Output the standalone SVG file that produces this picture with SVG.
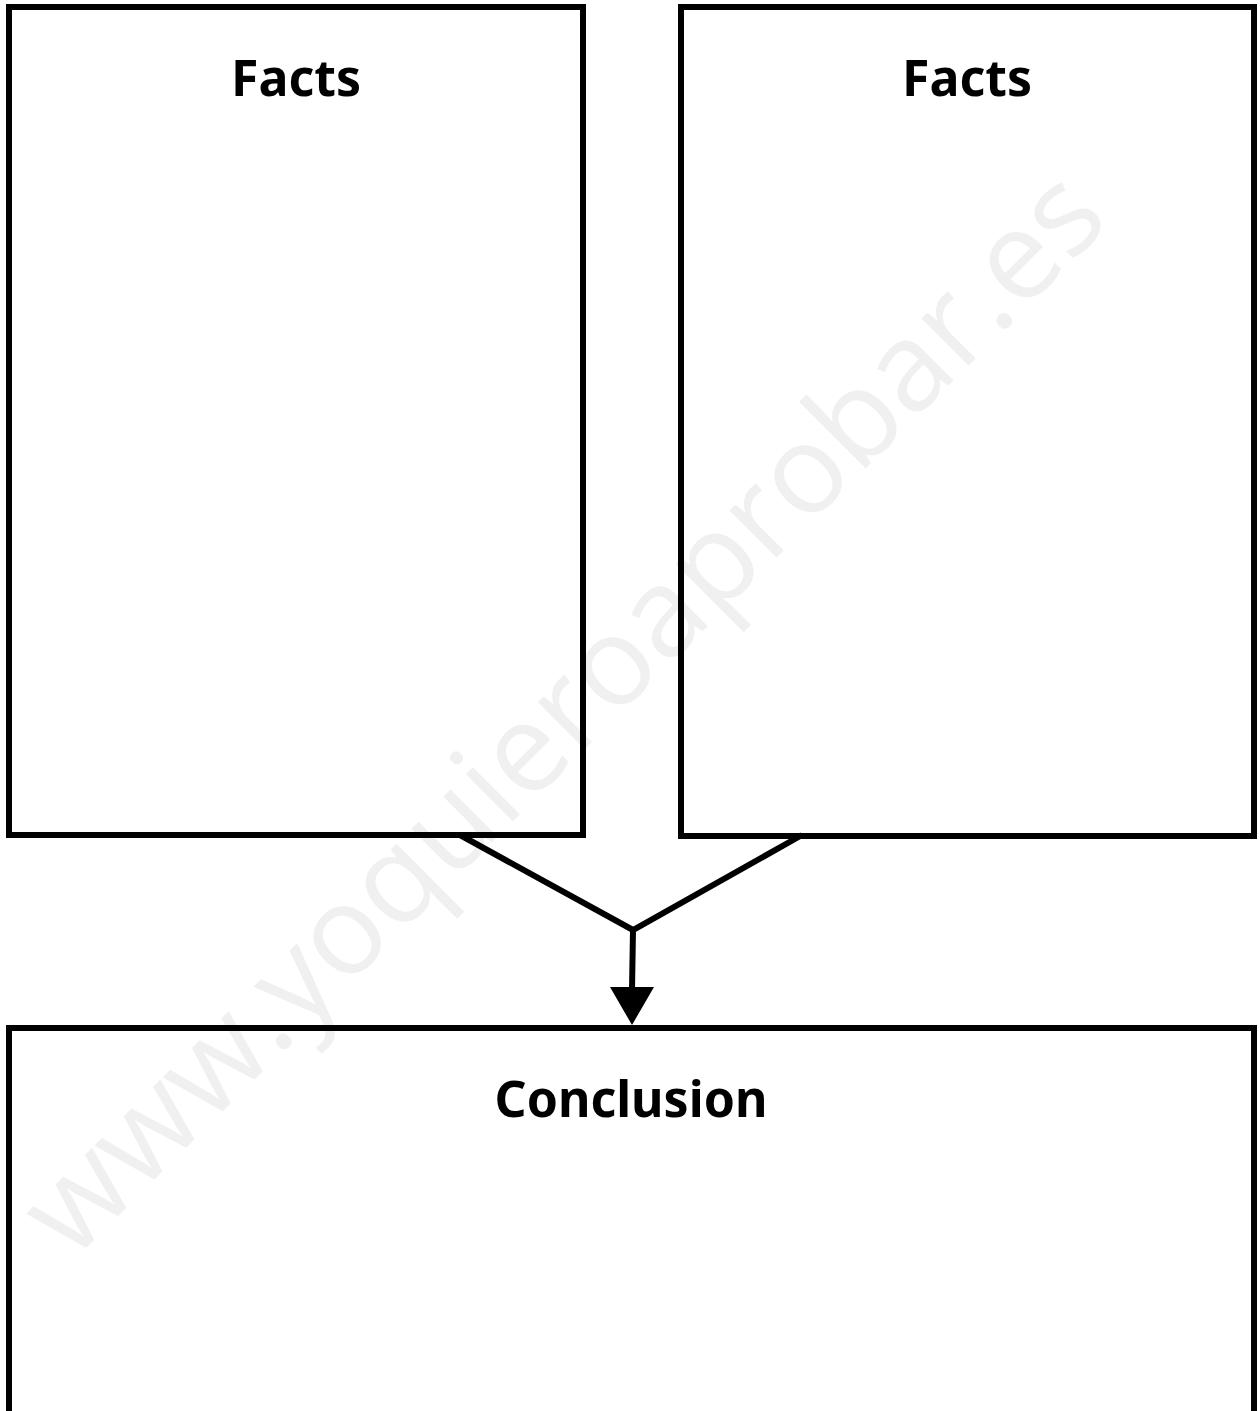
<svg xmlns="http://www.w3.org/2000/svg" width="1260" height="1411" viewBox="0 0 1260 1411">
<defs>
<style>
.box{fill:none;stroke:#000;stroke-width:6}
.lbl{font-family:"Noto Sans","Liberation Sans",sans-serif;font-weight:bold;font-size:50px;fill:#000;text-anchor:middle}
.con{fill:none;stroke:#000;stroke-width:6;stroke-linejoin:miter}
.wm{font-family:"Open Sans","Liberation Sans",sans-serif;font-size:124px;fill:#f0f0f0;text-anchor:middle}
</style>
</defs>
<rect width="1260" height="1411" fill="#fff"/>
<text class="wm" x="592" y="742" transform="rotate(-45 592 742)" textLength="1470">www.yoquieroaprobar.es</text>
<g id="connectors">
<polyline class="con" points="460,835 633,930 802,835"/>
<line x1="633" y1="930" x2="632" y2="990" class="con"/>
<path d="M610,987 L654,987 L632,1025 Z" fill="#000"/>
</g>
<g id="facts1">
<rect class="box" x="9" y="7" width="574" height="828"/>
<text class="lbl" x="296" y="96">Facts</text>
</g>
<g id="facts2">
<rect class="box" x="681" y="7" width="573" height="829"/>
<text class="lbl" x="967" y="96">Facts</text>
</g>
<g id="conclusion">
<rect class="box" x="9" y="1028" width="1245" height="450"/>
<text class="lbl" x="631" y="1117">Conclusion</text>
</g>
</svg>
